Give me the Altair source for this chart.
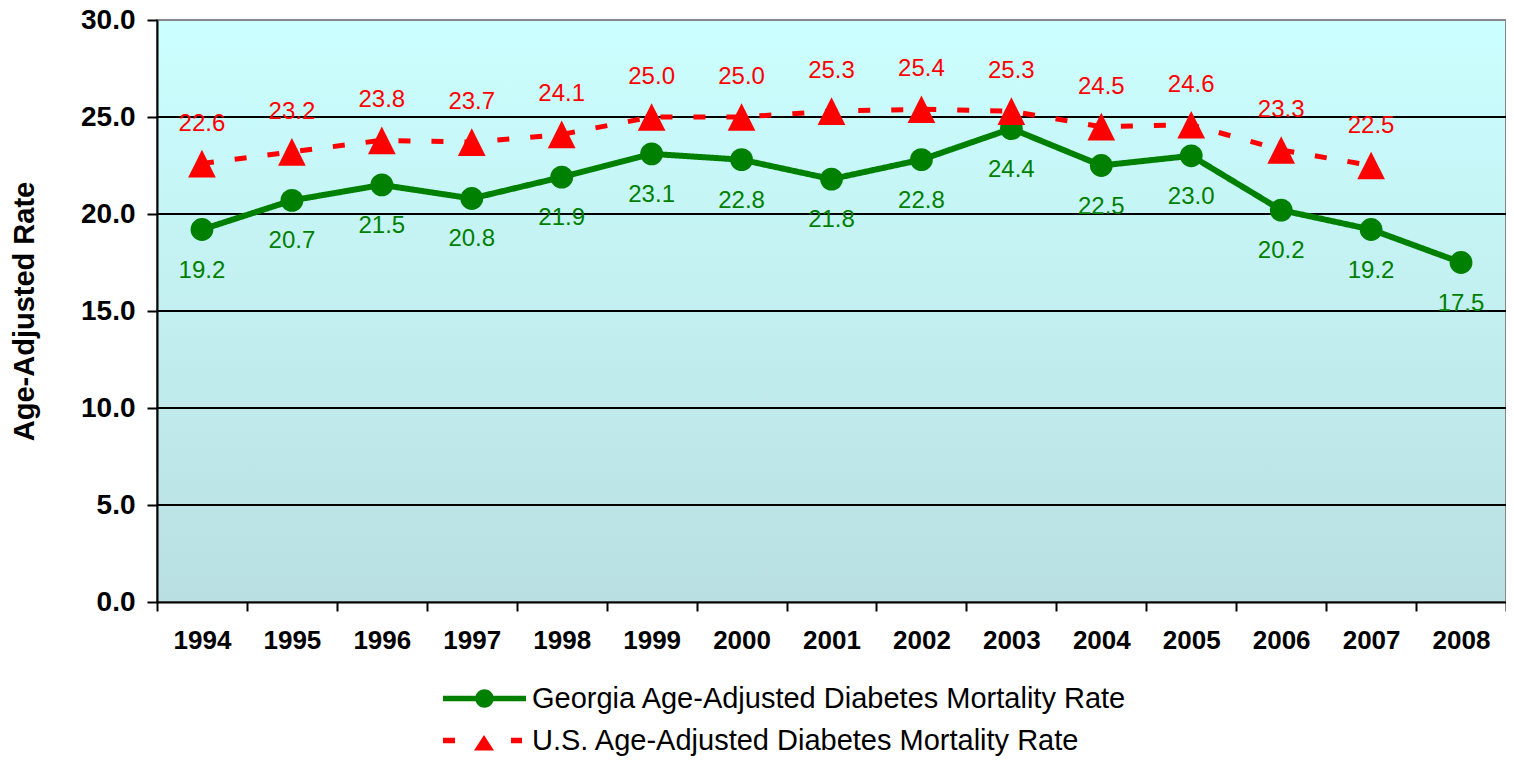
import altair as alt
import pandas as pd

# ---- data ----
years = list(range(1994, 2009))
georgia = [19.2, 20.7, 21.5, 20.8, 21.9, 23.1, 22.8, 21.8, 22.8, 24.4, 22.5, 23.0, 20.2, 19.2, 17.5]
us_years = list(range(1994, 2008))
us = [22.6, 23.2, 23.8, 23.7, 24.1, 25.0, 25.0, 25.3, 25.4, 25.3, 24.5, 24.6, 23.3, 22.5]
series_names = [
    "Georgia Age-Adjusted Diabetes Mortality Rate",
    "U.S. Age-Adjusted Diabetes Mortality Rate",
]
series_colors = ["#008000", "#FF0000"]
y_ticks = [0, 5, 10, 15, 20, 25, 30]
grid_values = [5, 10, 15, 20, 25]

rows = [{"year": y, "rate": v, "series": series_names[0]} for y, v in zip(years, georgia)]
rows += [{"year": y, "rate": v, "series": series_names[1]} for y, v in zip(us_years, us)]
df = pd.DataFrame(rows)

W, H = 1349, 582
band = W / len(years)
x_edges = [years[0] - 0.5 + i for i in range(len(years) + 1)]

FONT = "Liberation Sans"
x_scale = alt.Scale(domain=[x_edges[0], x_edges[-1]], nice=False, zero=False)
y_scale = alt.Scale(domain=[y_ticks[0], y_ticks[-1]], nice=False, zero=True)

x_axis = alt.Axis(
    values=x_edges,
    labelExpr=f"datum.value > {years[-1]} ? '' : format(datum.value + 0.5, 'd')",
    labelOffset=band / 2,
    labelFont=FONT, labelFontSize=26, labelFontWeight="bold", labelColor="black",
    tickSize=9, tickWidth=2, tickColor="black",
    domainColor="black", domainWidth=2,
    labelPadding=16, labelFlush=False, labelOverlap=False,
    grid=False, title="", zindex=1,
)
y_axis = alt.Axis(
    values=y_ticks, format=".1f",
    labelFont=FONT, labelFontSize=28, labelFontWeight="bold", labelColor="black",
    tickSize=10, tickWidth=2, tickColor="black",
    domainColor="black", domainWidth=2,
    labelPadding=12, labelFlush=False,
    grid=False, zindex=1,
    title="Age-Adjusted Rate", titleFont=FONT, titleFontSize=29, titleFontWeight="bold",
    titleColor="black", titleX=-133, titleY=H / 2, titleBaseline="middle", titleAngle=-90,
)

color_scale = alt.Scale(domain=series_names, range=series_colors)
tri_path = "M0,-1L1,1L-1,1Z"

# background panel with gradient
bg_df = pd.DataFrame({"x": [x_edges[0]], "x2": [x_edges[-1]], "y": [y_ticks[-1]], "y2": [y_ticks[0]]})
background = alt.Chart(bg_df).mark_rect(
    fill={"gradient": "linear", "x1": 0, "y1": 0, "x2": 0, "y2": 1,
          "stops": [{"offset": 0, "color": "#CCFFFF"}, {"offset": 1, "color": "#B9DFE2"}]},
    stroke="#878787", strokeWidth=2,
).encode(
    x=alt.X("x:Q", scale=x_scale, axis=x_axis),
    x2="x2:Q",
    y=alt.Y("y:Q", scale=y_scale, axis=y_axis),
    y2="y2:Q",
)

grid = alt.Chart(pd.DataFrame({"v": grid_values})).mark_rule(color="black", strokeWidth=2).encode(
    y=alt.Y("v:Q", scale=y_scale, axis=y_axis)
)

lines = alt.Chart(df).mark_line().encode(
    x=alt.X("year:Q", scale=x_scale, axis=x_axis),
    y=alt.Y("rate:Q", scale=y_scale, axis=y_axis),
    color=alt.Color("series:N", scale=color_scale, legend=None),
    strokeDash=alt.StrokeDash("series:N", scale=alt.Scale(domain=series_names, range=[[1, 0], [12, 21]]), legend=None),
    strokeWidth=alt.StrokeWidth("series:N", scale=alt.Scale(domain=series_names, range=[6, 5]), legend=None),
    detail="series:N",
)

points = alt.Chart(df).mark_point(filled=True, opacity=1).encode(
    x=alt.X("year:Q", scale=x_scale, axis=x_axis),
    y=alt.Y("rate:Q", scale=y_scale, axis=y_axis),
    color=alt.Color("series:N", scale=color_scale, legend=None),
    shape=alt.Shape("series:N", scale=alt.Scale(domain=series_names, range=["circle", tri_path]), legend=None),
    size=alt.Size("series:N", scale=alt.Scale(domain=series_names, range=[520, 767]), legend=None),
)


def value_labels(idx, dy):
    return alt.Chart(df).transform_filter(alt.datum.series == series_names[idx]).mark_text(
        dy=dy, font=FONT, fontSize=24, color=series_colors[idx], baseline="middle", align="center"
    ).encode(
        x=alt.X("year:Q", scale=x_scale, axis=x_axis),
        y=alt.Y("rate:Q", scale=y_scale, axis=y_axis),
        text=alt.Text("rate:Q", format=".1f"),
    )


g_text = value_labels(0, 41)
u_text = value_labels(1, -40)

# legend carriers: each symbol combines line + marker (unit = sqrt(symbolSize)/2 = 10 px)
g_sym = "M-4.15,-0.28H4.15V0.28H-4.15Z M0.92,0A0.92,0.92,0,1,1,-0.92,0A0.92,0.92,0,1,1,0.92,0Z"
u_sym = "M-4.15,-0.27H-2.95V0.27H-4.15Z M2.65,-0.27H3.75V0.27H2.65Z M-0.05,-0.55L0.95,1.0H-1.05Z"
legend_syms = [g_sym, u_sym]
legend_ys = [664, 706]


def legend_layer(idx):
    lg = alt.Legend(
        orient="none", legendX=313, legendY=legend_ys[idx], direction="vertical", title=None,
        labelFont=FONT, labelFontSize=29, labelColor="black", labelLimit=900,
        symbolSize=400, symbolOpacity=1, symbolStrokeWidth=0, symbolFillColor=series_colors[idx],
        labelOffset=33, padding=0,
    )
    return alt.Chart(pd.DataFrame({"series": [series_names[idx]]})).mark_point(
        filled=True, size=0, opacity=0, color=series_colors[idx]
    ).encode(
        shape=alt.Shape("series:N", scale=alt.Scale(domain=[series_names[idx]], range=[legend_syms[idx]]), legend=lg),
    )


chart = alt.layer(
    background, grid, lines, points, g_text, u_text, legend_layer(0), legend_layer(1)
).resolve_scale(
    shape="independent"
).properties(
    width=W, height=H,
    autosize=alt.AutoSizeParams(type="none"),
    padding={"left": 149, "top": 12, "right": 0, "bottom": 155},
).configure_view(stroke=None).configure(font=FONT)

chart.save("out.html", embed_options={"renderer": "svg", "actions": False})
